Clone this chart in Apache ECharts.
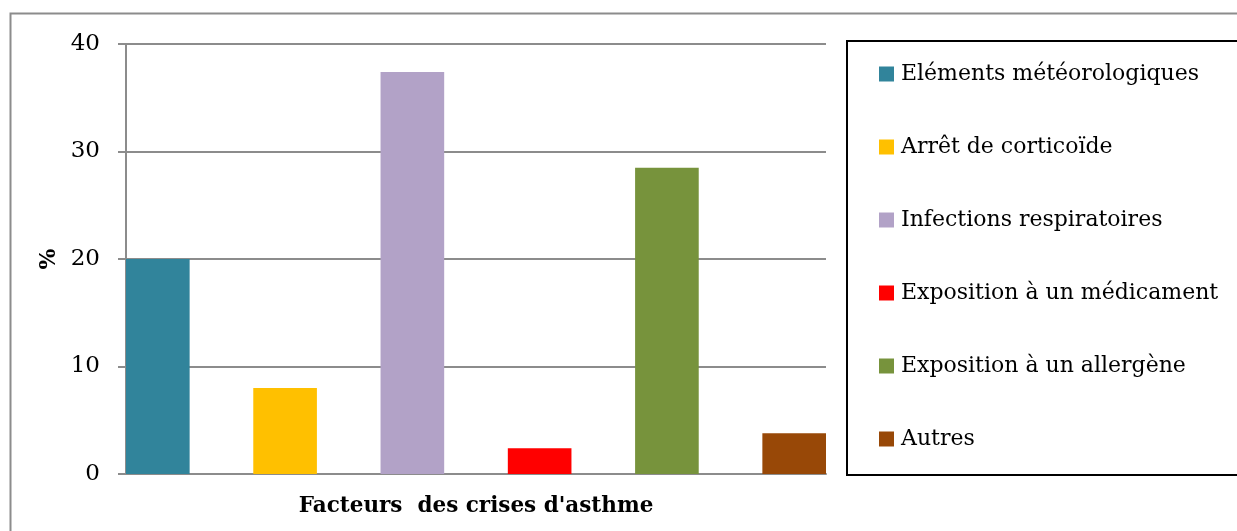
<!DOCTYPE html>
<html>
<head>
<meta charset="utf-8">
<script src="https://cdn.jsdelivr.net/npm/echarts@6/dist/echarts.min.js"></script>
<style>
  html, body { margin: 0; padding: 0; background: #fff; }
  #chart { width: 1237px; height: 531px; }
</style>
</head>
<body>
<div id="chart"></div>
<script>
// Facteurs des crises d'asthme (%)
const categories = ["Facteurs  des crises d'asthme"];
const seriesNames = [
  "Eléments météorologiques",
  "Arrêt de corticoïde",
  "Infections respiratoires",
  "Exposition à un médicament",
  "Exposition à un allergène",
  "Autres"
];
const seriesValues = [20, 8, 37.4, 2.4, 28.5, 3.8];
const seriesColors = ["#31849B", "#FFC000", "#B2A2C7", "#FF0000", "#77933C", "#984807"];
const yTicks = { min: 0, max: 40, interval: 10 };

const FONT = "DejaVu Serif";
const chart = echarts.init(document.getElementById('chart'), null, { renderer: 'canvas' });

const series = seriesNames.map((name, i) => ({
  name: name,
  type: 'bar',
  data: [seriesValues[i]],
  itemStyle: { color: seriesColors[i] },
  barGap: '100%',
  barCategoryGap: '0%',
  animation: false
}));

chart.setOption({
  animation: false,
  textStyle: { fontFamily: FONT },
  graphic: [
    { type: 'rect', left: 8, top: 11, shape: { width: 1260, height: 540 },
      style: { fill: 'none', stroke: '#8c8c8c', lineWidth: 2 }, z: -10 },
    { type: 'rect', left: 846, top: 40, shape: { width: 420, height: 434 },
      style: { fill: '#fff', stroke: '#000', lineWidth: 2 }, z: -5 }
  ],
  grid: { left: 126, top: 44, width: 700, height: 430, containLabel: false },
  legend: {
    orient: 'vertical',
    left: 874,
    top: 58,
    itemWidth: 15,
    itemHeight: 15,
    itemGap: 51,
    icon: 'rect',
    data: seriesNames,
    textStyle: { fontFamily: FONT, fontSize: 22, color: '#000', padding: [0, 0, 0, 2] }
  },
  xAxis: {
    type: 'category',
    data: categories,
    axisLine: { lineStyle: { color: '#8c8c8c', width: 2 } },
    axisTick: { show: false },
    axisLabel: {
      show: true,
      fontFamily: FONT, fontSize: 21.5, fontWeight: 'bold', color: '#000',
      margin: 21
    }
  },
  yAxis: {
    type: 'value',
    min: yTicks.min, max: yTicks.max, interval: yTicks.interval,
    name: '%',
    nameLocation: 'middle',
    nameGap: 65,
    nameRotate: 90,
    nameTextStyle: { fontFamily: FONT, fontSize: 22, fontWeight: 'bold', color: '#000' },
    axisLine: { show: true, lineStyle: { color: '#8c8c8c', width: 2 } },
    axisTick: { show: true, length: 8, lineStyle: { color: '#8c8c8c', width: 2 } },
    axisLabel: { fontFamily: FONT, fontSize: 23, color: '#000', margin: 26 },
    splitLine: { lineStyle: { color: '#8c8c8c', width: 2 } }
  },
  series: series
});
</script>
</body>
</html>
